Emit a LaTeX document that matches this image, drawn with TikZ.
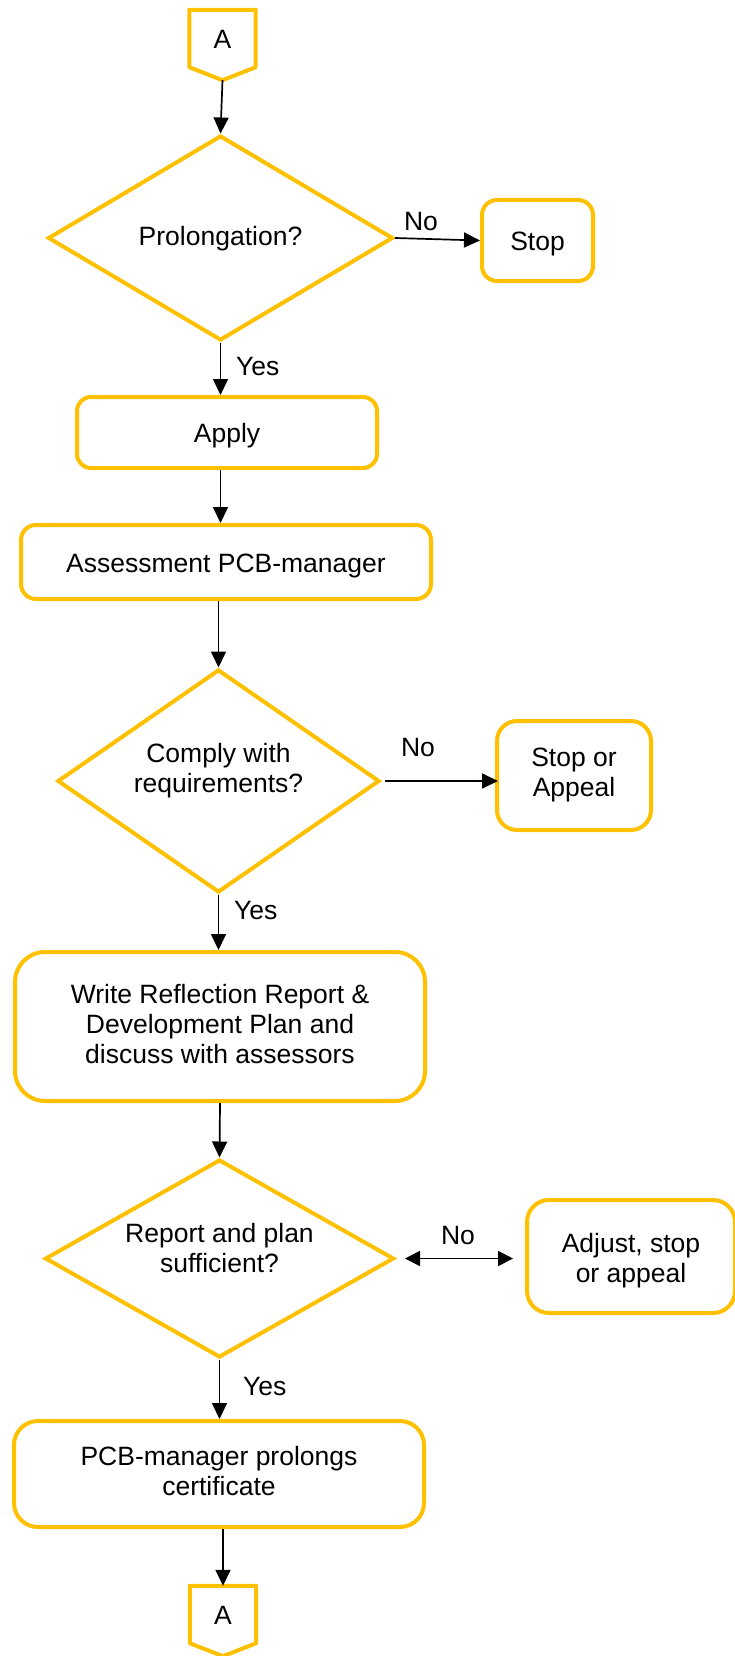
\documentclass[tikz,border=0pt]{standalone}
\usepackage{fontspec}
\setmainfont{Liberation Sans}
\usetikzlibrary{shapes.geometric,arrows.meta,calc}
\definecolor{gold}{RGB}{255,192,0}
\newcommand{\zstrut}{\rule[-0.212em]{0pt}{1.117em}}
\newcommand{\zstruta}{\rule[-0.212em]{0pt}{\dimexpr1.117em+2pt\relax}}
\begin{document}
\begin{tikzpicture}[x=1pt,y=-1pt,
  font=\fontsize{26.5}{30}\selectfont,
  box/.style={draw=gold,line width=4pt,rounded corners=#1,inner sep=0pt,align=center,
    execute at begin node=\zstruta,execute at end node=\zstrut},
  dec/.style={draw=gold,line width=4pt,shape=diamond,inner sep=0pt,line join=miter},
  conn/.style={inner sep=0pt,minimum width=66pt,minimum height=70pt,text depth=12pt},
  connline/.style={draw=gold,line width=4pt,line join=round},
  txt/.style={inner sep=0pt,align=center,execute at begin node=\zstruta,execute at end node=\zstrut},
  lab/.style={inner sep=0pt},
  arr/.style={-{Triangle[length=16pt,width=15pt]},line width=1.7pt,black},
  darr/.style={{Triangle[length=15pt,width=15pt]}-{Triangle[length=15pt,width=15pt]},line width=1.7pt,black}
]
\useasboundingbox (0,0) rectangle (734,1656);

% connectors A
\node[conn] (A1) at (222.5,45) {A};
\draw[connline] (A1.north west) -- (A1.north east) -- ([yshift=13pt]A1.south east)
  -- (A1.south) -- ([yshift=13pt]A1.south west) -- cycle;
\node[conn] (A2) at (223,1621) {A};
\draw[connline] (A2.north west) -- (A2.north east) -- ([yshift=13pt]A2.south east)
  -- (A2.south) -- ([yshift=13pt]A2.south west) -- cycle;

% decisions
\node[dec,minimum width=345pt,minimum height=205pt] (D1) at (220.5,238) {};
\node[txt] (D1t) at ([yshift=3pt]D1.center) {Prolongation?};
\node[dec,minimum width=322pt,minimum height=223pt] (D2) at (218.5,781) {};
\node[txt] (D2t) at ([yshift=10.5pt]D2.center) {Comply with\\requirements?};
\node[dec,minimum width=349pt,minimum height=198pt] (D3) at (219.5,1258.5) {};
\node[txt] (D3t) at ([yshift=8pt]D3.center) {Report and plan\\sufficient?};

% boxes
\node[box=15pt,minimum width=111pt,minimum height=81pt] (stop) at (537.5,240.5) {Stop};
\node[box=14pt,minimum width=300pt,minimum height=71pt] (apply) at (227,432.5) {Apply};
\node[box=15pt,minimum width=410pt,minimum height=74pt] (assess) at (226,562) {Assessment PCB-manager};
\node[box=20pt,minimum width=154pt,minimum height=109pt] (soa) at (574,775.5) {Stop or\\Appeal};
\node[box=30pt,minimum width=410pt,minimum height=149pt] (write) at (220,1026.5) {Write Reflection Report \&\\Development Plan and\\discuss with assessors};
\node[box=22pt,minimum width=208pt,minimum height=113pt] (adjust) at (631,1256.5) {\rule{0pt}{28pt}Adjust, stop\\or appeal};
\node[box=24pt,minimum width=410pt,minimum height=106pt] (pcb) at (219,1474) {PCB-manager prolongs\\certificate};

% connectors
\draw[arr] (A1.south) -- (D1.north);
\draw[arr] (D1.east) -- (stop.west);
\node[lab] (no1) at (421,222) {No};
\draw[arr] (D1.south) -- (D1.south |- apply.north);
\node[lab,anchor=west] (yes1) at (236,367) {Yes};
\draw[arr] (apply.south -| D1.south) -- (D1.south |- assess.north);
\draw[arr] (assess.south -| D2.north) -- (D2.north);
\draw[arr] ([xshift=3pt]D2.east) -- ([xshift=3pt]D2.east -| soa.west);
\node[lab] (no2) at (418,748) {No};
\draw[arr] (D2.south) -- (D2.south |- write.north);
\node[lab,anchor=west] (yes2) at (234,911) {Yes};
\draw[arr] (write.south) -- (D3.north);
\draw[darr,shorten <=9pt,shorten >=12pt] (D3.east) -- (D3.east -| adjust.west);
\node[lab] (no3) at (458,1235) {No};
\draw[arr] (D3.south) -- (D3.south |- pcb.north);
\node[lab,anchor=west] (yes3) at (243,1386) {Yes};
\draw[arr] (pcb.south -| A2.north) -- (A2.north);
\end{tikzpicture}
\end{document}
